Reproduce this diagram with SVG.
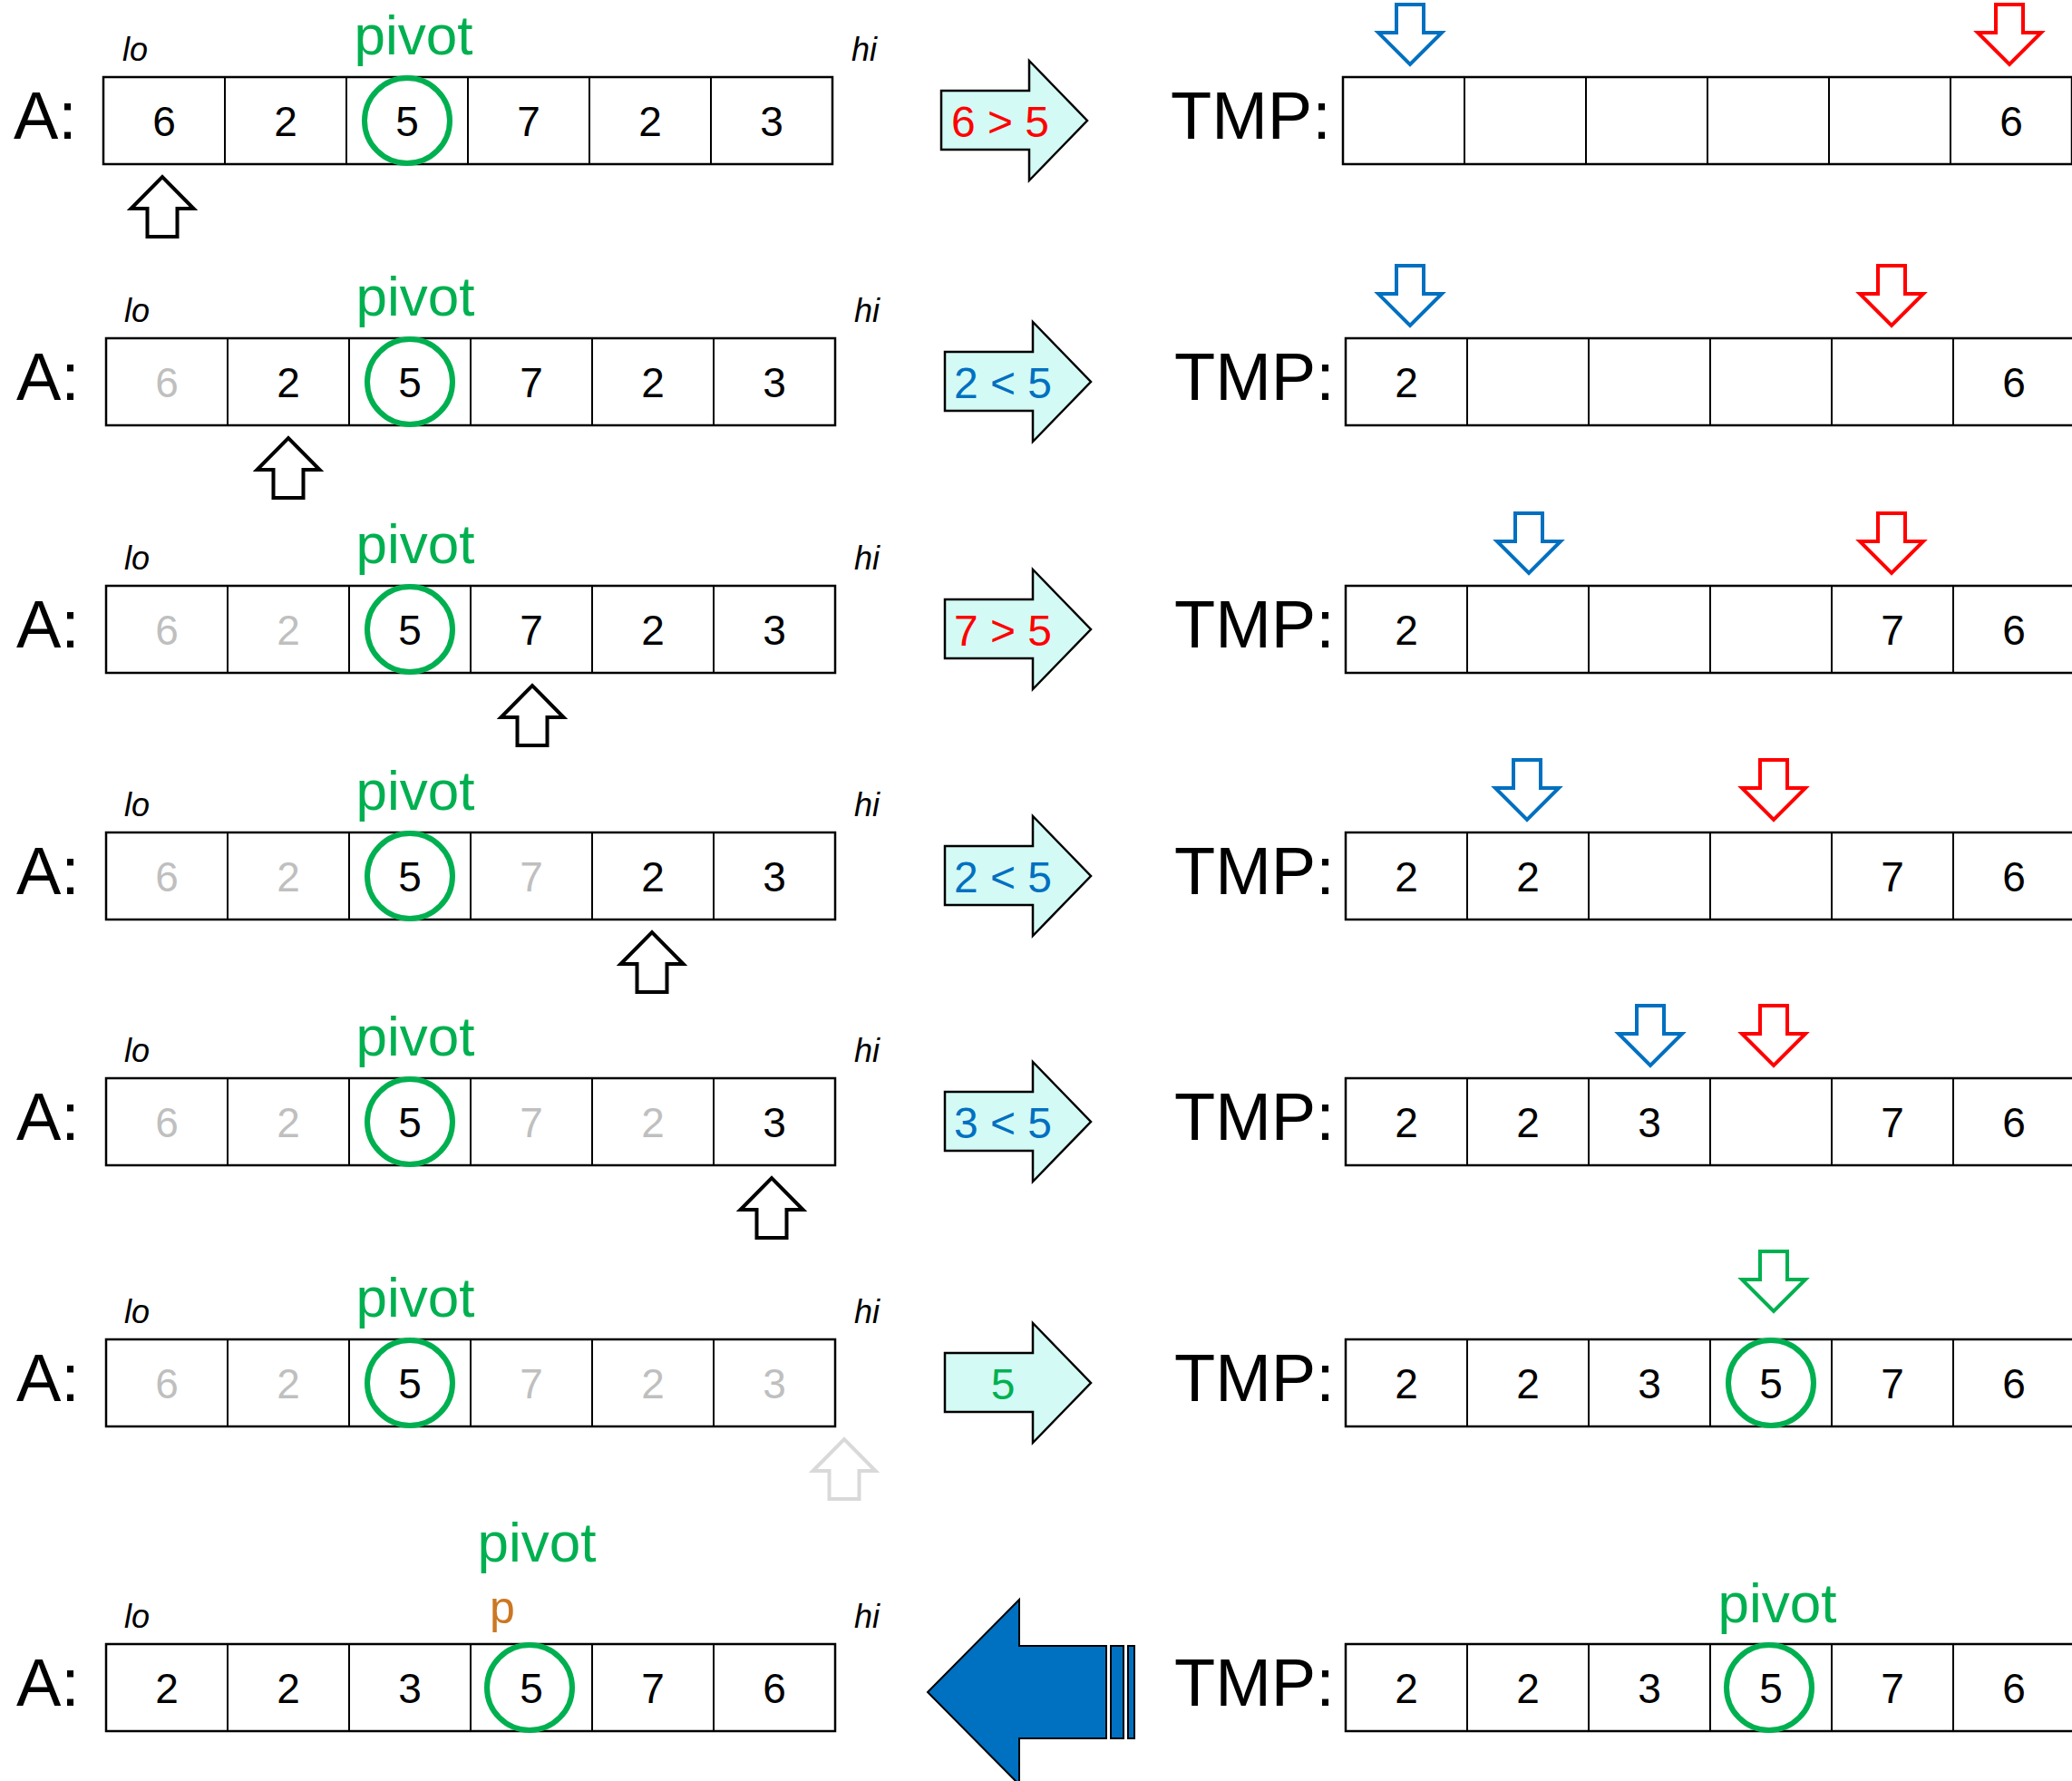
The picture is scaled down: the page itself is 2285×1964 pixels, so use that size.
<svg xmlns="http://www.w3.org/2000/svg" xmlns:xlink="http://www.w3.org/1999/xlink" width="2285" height="1964" viewBox="0 0 2285 1964">
<style>
text{font-family:"Liberation Sans",Arial,sans-serif}
.box{fill:#fff;stroke:#000;stroke-width:2.5}
.dv{stroke:#000;stroke-width:2}
.n{font-size:46px;text-anchor:middle;fill:#000}
.g{fill:#BFBFBF}
.lbl{font-size:74px;fill:#000}
.lh{font-size:36px;font-style:italic;fill:#000}
.pv{font-size:62px;fill:#00B050;text-anchor:middle}
.circ{fill:none;stroke:#00B050;stroke-width:6}
.cmp{fill:#D3FAF5;stroke:#000;stroke-width:2.5;stroke-linejoin:miter}
.ct{font-size:48px;text-anchor:middle}
.red{fill:#FF0000}
.blue{fill:#0070C0}
.grn{fill:#00B050}
.up{fill:#fff;stroke:#000;stroke-width:4}
.upg{fill:#fff;stroke:#D9D9D9;stroke-width:4}
.db{fill:#fff;stroke:#0070C0;stroke-width:4}
.dr{fill:#fff;stroke:#FF0000;stroke-width:4}
.dg{fill:#fff;stroke:#00B050;stroke-width:4}
</style>
<defs>
<path id="upA" d="M -16.5,0 L 16.5,0 L 16.5,-31 L 34.5,-31 L 0,-66 L -34.5,-31 L -16.5,-31 Z"/>
<path id="dnA" d="M -15,0 L 15,0 L 15,31 L 35,31 L 0,66 L -35,31 L -15,31 Z"/>
<path id="cmpA" d="M 0,15 L 97,15 L 97,-18 L 161,48 L 97,114 L 97,80 L 0,80 Z"/>
<g id="arrA">
<rect class="box" x="0" y="0" width="804" height="96"/>
<path class="dv" d="M134,0V96M268,0V96M402,0V96M536,0V96M670,0V96"/>
</g>
</defs>
<rect width="2285" height="1964" fill="#fff"/>

<g id="connectors">
<use xlink:href="#cmpA" class="cmp" x="1038" y="85"/>
<use xlink:href="#cmpA" class="cmp" x="1042" y="373"/>
<use xlink:href="#cmpA" class="cmp" x="1042" y="646"/>
<use xlink:href="#cmpA" class="cmp" x="1042" y="918"/>
<use xlink:href="#cmpA" class="cmp" x="1042" y="1189"/>
<use xlink:href="#cmpA" class="cmp" x="1042" y="1477"/>
<text class="ct red" x="1103" y="151">6 &gt; 5</text>
<text class="ct blue" x="1106" y="439">2 &lt; 5</text>
<text class="ct red" x="1106" y="712">7 &gt; 5</text>
<text class="ct blue" x="1106" y="984">2 &lt; 5</text>
<text class="ct blue" x="1106" y="1255">3 &lt; 5</text>
<text class="ct grn" x="1106" y="1543">5</text>
<g id="backArrow">
<path d="M 1023,1866 L 1124,1764 L 1124,1815 L 1220,1815 L 1220,1917 L 1124,1917 L 1124,1968 Z" fill="#0070C0" stroke="#000" stroke-width="2"/>
<rect x="1225" y="1815" width="14" height="102" fill="#0070C0" stroke="#000" stroke-width="2"/>
<rect x="1244" y="1815" width="7" height="102" fill="#0070C0" stroke="#000" stroke-width="2"/>
</g>
</g>

<!-- Row 1 -->
<g id="row1" transform="translate(0,85)">
<g id="row1-A">
<text class="lbl" x="15" y="68">A:</text>
<use xlink:href="#arrA" x="114" y="0"/>
<text class="n" x="181" y="65">6</text><text class="n" x="315" y="65">2</text><text class="n" x="449" y="65">5</text><text class="n" x="583" y="65">7</text><text class="n" x="717" y="65">2</text><text class="n" x="851" y="65">3</text>
<circle class="circ" cx="449" cy="48" r="47"/>
<text class="pv" x="456" y="-25">pivot</text>
<text class="lh" x="135" y="-18">lo</text><text class="lh" x="939" y="-18">hi</text>
<use xlink:href="#upA" class="up" x="179" y="176"/>
</g>
<g id="row1-TMP">
<text class="lbl" x="1291" y="68">TMP:</text>
<use xlink:href="#arrA" x="1481" y="0"/>
<text class="n" x="2218" y="65">6</text>
<use xlink:href="#dnA" class="db" x="1555" y="-80"/>
<use xlink:href="#dnA" class="dr" x="2216" y="-80"/>
</g>
</g>

<!-- Row 2 -->
<g id="row2" transform="translate(0,373)">
<g id="row2-A">
<text class="lbl" x="18" y="68">A:</text>
<use xlink:href="#arrA" x="117" y="0"/>
<text class="n g" x="184" y="65">6</text><text class="n" x="318" y="65">2</text><text class="n" x="452" y="65">5</text><text class="n" x="586" y="65">7</text><text class="n" x="720" y="65">2</text><text class="n" x="854" y="65">3</text>
<circle class="circ" cx="452" cy="48" r="47"/>
<text class="pv" x="458" y="-25">pivot</text>
<text class="lh" x="137" y="-18">lo</text><text class="lh" x="942" y="-18">hi</text>
<use xlink:href="#upA" class="up" x="318" y="176"/>
</g>
<g id="row2-TMP">
<text class="lbl" x="1295" y="68">TMP:</text>
<use xlink:href="#arrA" x="1484" y="0"/>
<text class="n" x="1551" y="65">2</text><text class="n" x="2221" y="65">6</text>
<use xlink:href="#dnA" class="db" x="1555" y="-80"/>
<use xlink:href="#dnA" class="dr" x="2086" y="-80"/>
</g>
</g>

<!-- Row 3 -->
<g id="row3" transform="translate(0,646)">
<g id="row3-A">
<text class="lbl" x="18" y="68">A:</text>
<use xlink:href="#arrA" x="117" y="0"/>
<text class="n g" x="184" y="65">6</text><text class="n g" x="318" y="65">2</text><text class="n" x="452" y="65">5</text><text class="n" x="586" y="65">7</text><text class="n" x="720" y="65">2</text><text class="n" x="854" y="65">3</text>
<circle class="circ" cx="452" cy="48" r="47"/>
<text class="pv" x="458" y="-25">pivot</text>
<text class="lh" x="137" y="-18">lo</text><text class="lh" x="942" y="-18">hi</text>
<use xlink:href="#upA" class="up" x="587" y="176"/>
</g>
<g id="row3-TMP">
<text class="lbl" x="1295" y="68">TMP:</text>
<use xlink:href="#arrA" x="1484" y="0"/>
<text class="n" x="1551" y="65">2</text><text class="n" x="2087" y="65">7</text><text class="n" x="2221" y="65">6</text>
<use xlink:href="#dnA" class="db" x="1686" y="-80"/>
<use xlink:href="#dnA" class="dr" x="2086" y="-80"/>
</g>
</g>

<!-- Row 4 -->
<g id="row4" transform="translate(0,918)">
<g id="row4-A">
<text class="lbl" x="18" y="68">A:</text>
<use xlink:href="#arrA" x="117" y="0"/>
<text class="n g" x="184" y="65">6</text><text class="n g" x="318" y="65">2</text><text class="n" x="452" y="65">5</text><text class="n g" x="586" y="65">7</text><text class="n" x="720" y="65">2</text><text class="n" x="854" y="65">3</text>
<circle class="circ" cx="452" cy="48" r="47"/>
<text class="pv" x="458" y="-25">pivot</text>
<text class="lh" x="137" y="-18">lo</text><text class="lh" x="942" y="-18">hi</text>
<use xlink:href="#upA" class="up" x="719" y="176"/>
</g>
<g id="row4-TMP">
<text class="lbl" x="1295" y="68">TMP:</text>
<use xlink:href="#arrA" x="1484" y="0"/>
<text class="n" x="1551" y="65">2</text><text class="n" x="1685" y="65">2</text><text class="n" x="2087" y="65">7</text><text class="n" x="2221" y="65">6</text>
<use xlink:href="#dnA" class="db" x="1684" y="-80"/>
<use xlink:href="#dnA" class="dr" x="1956" y="-80"/>
</g>
</g>

<!-- Row 5 -->
<g id="row5" transform="translate(0,1189)">
<g id="row5-A">
<text class="lbl" x="18" y="68">A:</text>
<use xlink:href="#arrA" x="117" y="0"/>
<text class="n g" x="184" y="65">6</text><text class="n g" x="318" y="65">2</text><text class="n" x="452" y="65">5</text><text class="n g" x="586" y="65">7</text><text class="n g" x="720" y="65">2</text><text class="n" x="854" y="65">3</text>
<circle class="circ" cx="452" cy="48" r="47"/>
<text class="pv" x="458" y="-25">pivot</text>
<text class="lh" x="137" y="-18">lo</text><text class="lh" x="942" y="-18">hi</text>
<use xlink:href="#upA" class="up" x="851" y="176"/>
</g>
<g id="row5-TMP">
<text class="lbl" x="1295" y="68">TMP:</text>
<use xlink:href="#arrA" x="1484" y="0"/>
<text class="n" x="1551" y="65">2</text><text class="n" x="1685" y="65">2</text><text class="n" x="1819" y="65">3</text><text class="n" x="2087" y="65">7</text><text class="n" x="2221" y="65">6</text>
<use xlink:href="#dnA" class="db" x="1820" y="-80"/>
<use xlink:href="#dnA" class="dr" x="1956" y="-80"/>
</g>
</g>

<!-- Row 6 -->
<g id="row6" transform="translate(0,1477)">
<g id="row6-A">
<text class="lbl" x="18" y="68">A:</text>
<use xlink:href="#arrA" x="117" y="0"/>
<text class="n g" x="184" y="65">6</text><text class="n g" x="318" y="65">2</text><text class="n" x="452" y="65">5</text><text class="n g" x="586" y="65">7</text><text class="n g" x="720" y="65">2</text><text class="n g" x="854" y="65">3</text>
<circle class="circ" cx="452" cy="48" r="47"/>
<text class="pv" x="458" y="-25">pivot</text>
<text class="lh" x="137" y="-18">lo</text><text class="lh" x="942" y="-18">hi</text>
<use xlink:href="#upA" class="upg" x="931" y="176"/>
</g>
<g id="row6-TMP">
<text class="lbl" x="1295" y="68">TMP:</text>
<use xlink:href="#arrA" x="1484" y="0"/>
<text class="n" x="1551" y="65">2</text><text class="n" x="1685" y="65">2</text><text class="n" x="1819" y="65">3</text><text class="n" x="1953" y="65">5</text><text class="n" x="2087" y="65">7</text><text class="n" x="2221" y="65">6</text>
<circle class="circ" cx="1953" cy="48" r="47"/>
<use xlink:href="#dnA" class="dg" x="1956" y="-97"/>
</g>
</g>

<!-- Row 7 -->
<g id="row7" transform="translate(0,1813)">
<g id="row7-A">
<text class="lbl" x="18" y="68">A:</text>
<use xlink:href="#arrA" x="117" y="0"/>
<text class="n" x="184" y="65">2</text><text class="n" x="318" y="65">2</text><text class="n" x="452" y="65">3</text><text class="n" x="586" y="65">5</text><text class="n" x="720" y="65">7</text><text class="n" x="854" y="65">6</text>
<circle class="circ" cx="584" cy="48" r="47"/>
<text class="pv" x="592" y="-91">pivot</text>
<text x="554" y="-23" font-size="50" fill="#CC7722" text-anchor="middle">p</text>
<text class="lh" x="137" y="-18">lo</text><text class="lh" x="942" y="-18">hi</text>
</g>
<g id="row7-TMP">
<text class="lbl" x="1295" y="68">TMP:</text>
<use xlink:href="#arrA" x="1484" y="0"/>
<text class="n" x="1551" y="65">2</text><text class="n" x="1685" y="65">2</text><text class="n" x="1819" y="65">3</text><text class="n" x="1953" y="65">5</text><text class="n" x="2087" y="65">7</text><text class="n" x="2221" y="65">6</text>
<circle class="circ" cx="1951" cy="48" r="47"/>
<text class="pv" x="1960" y="-24">pivot</text>
</g>
</g>
</svg>
